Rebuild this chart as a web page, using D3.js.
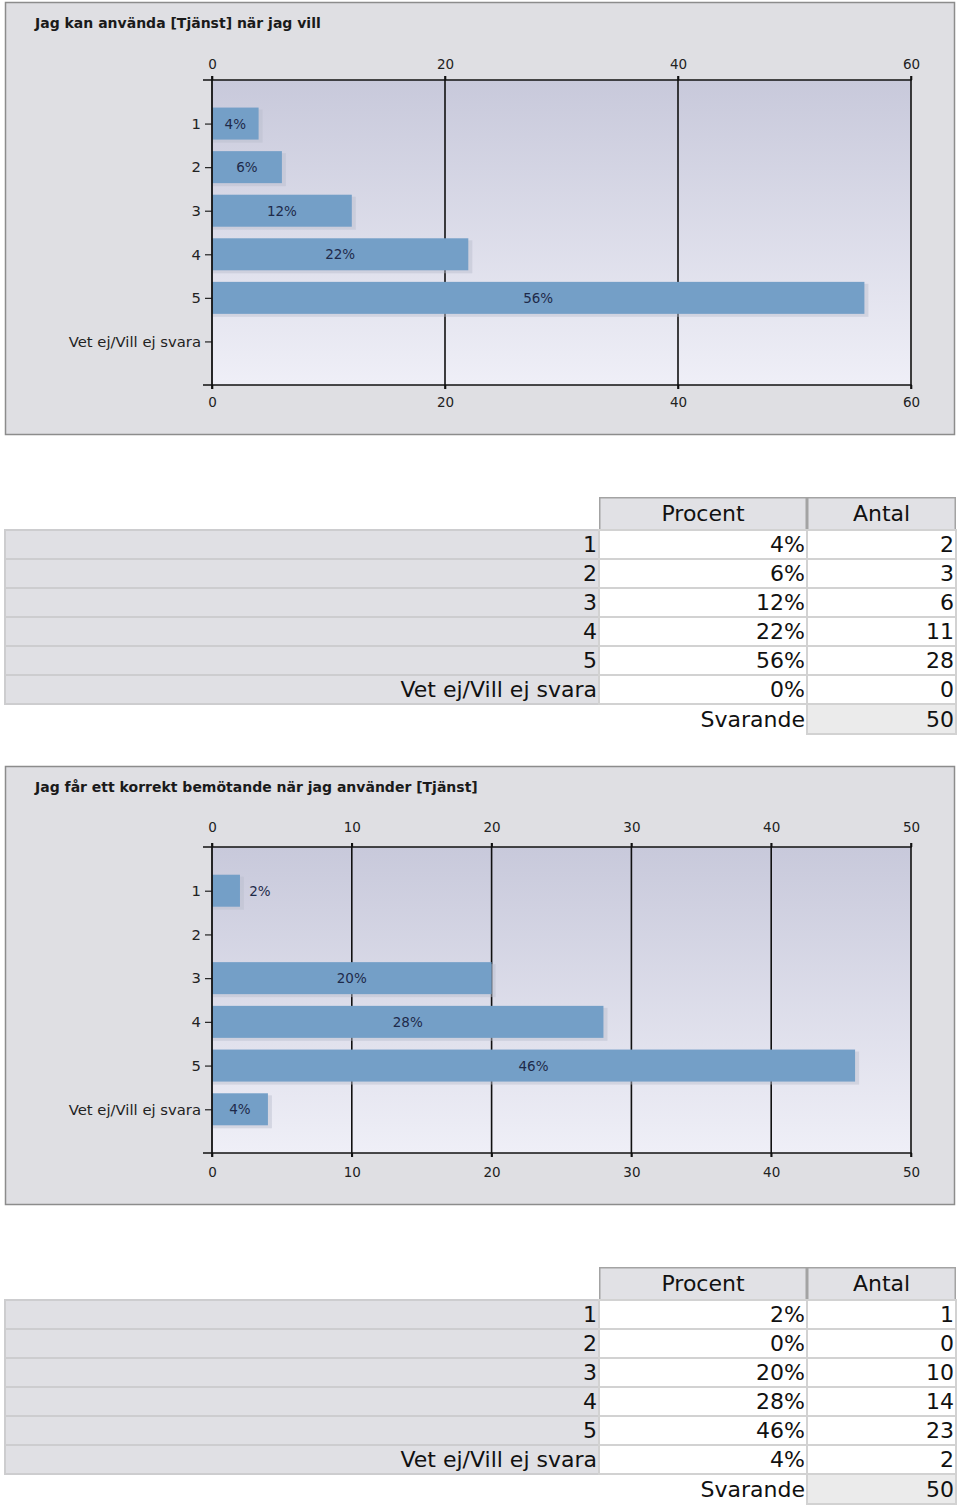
<!DOCTYPE html>
<html><head><meta charset="utf-8">
<script src="https://cdn.jsdelivr.net/npm/d3@7"></script>
<style>body{margin:0;background:#fff;}svg{display:block;}</style>
</head><body>
<script>
// ---- DATA ----
const categories = ["1","2","3","4","5","Vet ej/Vill ej svara"];
const title1 = "Jag kan använda [Tjänst] när jag vill";
const percent1 = [4,6,12,22,56,0];
const count1 = [2,3,6,11,28,0];
const ticks1 = [0,20,40,60];
const title2 = "Jag får ett korrekt bemötande när jag använder [Tjänst]";
const percent2 = [2,0,20,28,46,4];
const count2 = [1,0,10,14,23,2];
const ticks2 = [0,10,20,30,40,50];
const headers = ["Procent","Antal"];
const totalLabel = "Svarande";
const total1 = 50, total2 = 50;

// ---- LAYOUT ----
const svg = d3.select("body").append("svg").attr("width",960).attr("height",1507);
const defs = svg.append("defs");
const grad = defs.append("linearGradient").attr("id","plotbg").attr("x1",0).attr("y1",0).attr("x2",0).attr("y2",1);
grad.append("stop").attr("offset","0%").attr("stop-color","#c8c9db");
grad.append("stop").attr("offset","100%").attr("stop-color","#efeff7");

function chart(L, title, values, ticks){
  const g = svg.append("g").attr("transform",`translate(0,${L.y0})`);
  g.append("rect").attr("x",5.5).attr("y",0.5).attr("width",949).attr("height",L.h)
    .attr("fill","#dfdfe3").attr("stroke","#8c8c8c").attr("stroke-width",1.5);
  g.append("text").attr("x",35).attr("y",26).text(title)
    .attr("font-family","DejaVu Sans").attr("font-weight","bold").attr("font-size",14).attr("fill","#1a1a1a");
  const top = L.top, bottom = L.bottom, left = 212, right = 911;
  const x = d3.scaleLinear().domain([0, ticks[ticks.length-1]]).range([left,right]);
  const y = d3.scalePoint().domain(categories).range([top,bottom]).padding(1);
  const bh = 32;
  g.append("rect").attr("x",left).attr("y",top).attr("width",right-left).attr("height",bottom-top).attr("fill","url(#plotbg)");
  g.selectAll(".grid").data(ticks.slice(1)).join("line")
    .attr("x1",d=>x(d)).attr("x2",d=>x(d)).attr("y1",top-4).attr("y2",bottom+4)
    .attr("stroke","#111").attr("stroke-width",1.6);
  const bars = g.append("g");
  categories.forEach((c,i)=>{
    const v = values[i];
    if(v<=0) return;
    const by = y(c)-bh/2;
    bars.append("rect").attr("x",left+1).attr("y",by+2).attr("width",x(v)-left+3).attr("height",bh+1)
      .attr("fill","#b8bccb").attr("opacity",0.45);
    bars.append("rect").attr("x",left).attr("y",by).attr("width",x(v)-left).attr("height",bh).attr("fill","#749fc7");
    const w = x(v)-left;
    const inside = w > 36;
    bars.append("text").attr("x", inside ? left + w/2 : x(v)+20).attr("y", y(c)+5)
      .attr("text-anchor","middle").text(v+"%")
      .attr("font-family","DejaVu Sans").attr("font-size",13.5).attr("fill","#1e2a4a");
  });
  const font = (sel,s)=>sel.selectAll("text").attr("font-family","DejaVu Sans").attr("font-size",s).attr("fill","#222");
  const ax1 = g.append("g").attr("transform",`translate(0,${top})`).call(d3.axisTop(x).tickValues(ticks).tickSize(4).tickPadding(L.padT).tickFormat(d3.format("d")));
  const ax2 = g.append("g").attr("transform",`translate(0,${bottom})`).call(d3.axisBottom(x).tickValues(ticks).tickSize(4).tickPadding(L.padB).tickFormat(d3.format("d")));
  [ax1,ax2].forEach(a=>{a.select(".domain").remove(); a.selectAll("line").attr("stroke","#111").attr("stroke-width",1.6); font(a,13.5);});
  [top,bottom].forEach(yy=>g.append("line").attr("x1",left-9).attr("x2",right+0.8).attr("y1",yy).attr("y2",yy).attr("stroke","#111").attr("stroke-width",1.6));
  const ay = g.append("g").attr("transform",`translate(${left},0)`).call(d3.axisLeft(y).tickSize(7).tickPadding(4));
  ay.select(".domain").remove();
  ay.selectAll("line").attr("stroke","#222").attr("stroke-width",1.2);
  font(ay,14.8);
  g.append("line").attr("x1",left).attr("x2",left).attr("y1",top-4).attr("y2",bottom+4).attr("stroke","#111").attr("stroke-width",1.8);
}

function table(y0, perc, counts, total){
  const g = svg.append("g").attr("transform",`translate(0,${y0})`);
  const txt = (sel)=>sel.attr("font-family","DejaVu Sans").attr("font-size",22).attr("fill","#111");
  const cols = [[599,208],[807,149]];
  headers.forEach((h,i)=>{
    g.append("rect").attr("x",cols[i][0]+0.75).attr("y",0.75).attr("width",cols[i][1]-1.5).attr("height",32)
      .attr("fill","#e1e1e5").attr("stroke","#a3a3a3").attr("stroke-width",1.5);
    txt(g.append("text").attr("x",cols[i][0]+cols[i][1]/2).attr("y",24).attr("text-anchor","middle").text(h));
  });
  const rh = 29, r0 = 33;
  categories.forEach((c,i)=>{
    const ry = r0 + i*rh;
    g.append("rect").attr("x",5).attr("y",ry).attr("width",594).attr("height",rh).attr("fill","#e0e0e4").attr("stroke","#cdcdcf").attr("stroke-width",2);
    g.append("rect").attr("x",cols[0][0]).attr("y",ry).attr("width",cols[0][1]).attr("height",rh).attr("fill","#fff").attr("stroke","#d2d2d2").attr("stroke-width",2);
    g.append("rect").attr("x",cols[1][0]).attr("y",ry).attr("width",cols[1][1]).attr("height",rh).attr("fill","#fff").attr("stroke","#d2d2d2").attr("stroke-width",2);
    txt(g.append("text").attr("x",597).attr("y",ry+22).attr("text-anchor","end").text(c));
    txt(g.append("text").attr("x",805).attr("y",ry+22).attr("text-anchor","end").text(perc[i]+"%"));
    txt(g.append("text").attr("x",954).attr("y",ry+22).attr("text-anchor","end").text(counts[i]));
  });
  const sy = r0 + categories.length*rh;
  g.append("rect").attr("x",cols[1][0]).attr("y",sy).attr("width",cols[1][1]).attr("height",rh+1).attr("fill","#ebebeb").attr("stroke","#d2d2d2").attr("stroke-width",2);
  txt(g.append("text").attr("x",805).attr("y",sy+23).attr("text-anchor","end").text(totalLabel));
  txt(g.append("text").attr("x",954).attr("y",sy+23).attr("text-anchor","end").text(total));
}

chart({y0:2,h:432,top:78,bottom:383,padT:7,padB:8}, title1, percent1, ticks1);
table(497, percent1, count1, total1);
chart({y0:766,h:438,top:81,bottom:387,padT:11,padB:10}, title2, percent2, ticks2);
table(1267, percent2, count2, total2);
</script>
</body></html>
